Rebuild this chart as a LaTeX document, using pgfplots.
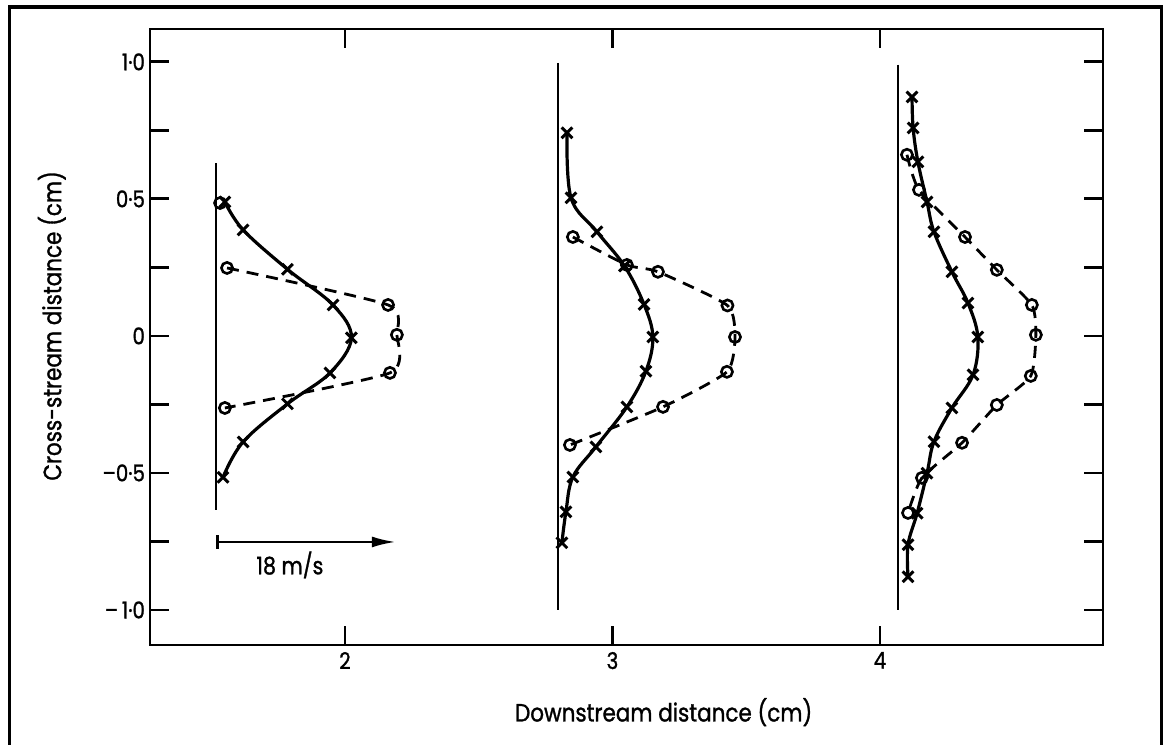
\documentclass[border=0pt]{standalone}
\usepackage{pgfplots}
\pgfplotsset{compat=1.18}
\usepackage{fontspec}
\setmainfont{Poppins}[FakeBold=1.2, FakeStretch=0.86]
\usetikzlibrary{arrows.meta}
\begin{document}
\begin{tikzpicture}
\useasboundingbox (0,0) rectangle (582.5pt,372pt);
\draw[line width=1.7pt] (4.75pt,-5pt) -- (4.75pt,368.5pt) -- (580.75pt,368.5pt) -- (580.75pt,-5pt);
\begin{axis}[
  at={(75pt,49.5pt)}, anchor=south west,
  width=476.5pt, height=308pt, scale only axis,
  xmin=1.271, xmax=4.834, ymin=-1.128, ymax=1.12,
  xtick={2,3,4}, xticklabels={2,3,4},
  ytick={-1,-0.75,-0.5,-0.25,0,0.25,0.5,0.75,1},
  yticklabels={\textendash\,1·0,,\textendash0·5,,0,,0·5,,1·0},
  tick align=inside, major tick length=9.5pt,
  xtick pos=both, ytick pos=both,
  axis line style={line width=1.4pt},
  every tick/.style={line width=1.4pt, black},
  tick label style={font=\fontsize{11.5}{13}\selectfont},
  yticklabel style={xshift=1pt},
  xlabel={Downstream distance (cm)},
  ylabel={Cross-stream distance (cm)},
  every axis x label/.style={at={(axis description cs:0.539,-0.109)}, anchor=center, font=\fontsize{12.5}{14}\selectfont},
  every axis y label/.style={at={(axis description cs:-0.103,0.518)}, rotate=90, anchor=center, font=\fontsize{12.5}{14}\selectfont},
  clip=false,
]
% baselines
\addplot[line width=1.1pt] coordinates {(1.518,0.63) (1.518,-0.635)};
\addplot[line width=1.1pt] coordinates {(2.796,0.996) (2.796,-1.0)};
\addplot[line width=1.1pt] coordinates {(4.067,0.99) (4.067,-1.0)};
% velocity scale arrow
\addplot[line width=1.3pt, {Bar[width=7pt]}-{Latex[length=12pt,width=5.5pt]}] coordinates {(1.518,-0.752) (2.19,-0.752)};
\node[font=\fontsize{12}{13}\selectfont] at (axis cs:1.794,-0.836) {18 m/s};

% profile 1 circles (dashed)
\addplot[line width=1.4pt, dash pattern=on 6pt off 4pt, smooth, tension=0.35, mark=o, mark size=2.8pt, mark options={solid, fill=white, line width=1.3pt}] coordinates {
(1.559,0.248) (2.161,0.113) (2.194,0.004) (2.168,-0.135) (1.551,-0.263)};
\addplot[only marks, mark=o, mark size=2.8pt, mark options={fill=white, line width=1.3pt}] coordinates {(1.533,0.485)};
% profile 1 crosses (solid)
\addplot[line width=1.6pt, smooth, tension=0.6, mark=x, mark size=3.8pt, mark options={line width=1.5pt}] coordinates {
(1.551,0.489) (1.619,0.387) (1.785,0.243) (1.955,0.113) (2.024,-0.007) (1.944,-0.135) (1.785,-0.248) (1.619,-0.387) (1.544,-0.516)};

% profile 2 circles (dashed)
\addplot[line width=1.4pt, dash pattern=on 6pt off 4pt, smooth, tension=0.35, mark=o, mark size=2.8pt, mark options={solid, fill=white, line width=1.3pt}] coordinates {
(2.852,0.361) (3.054,0.259) (3.170,0.234) (3.430,0.111) (3.458,-0.004) (3.428,-0.131) (3.189,-0.259) (2.841,-0.398)};
% profile 2 crosses (solid)
\addplot[line width=1.6pt, smooth, tension=0.6, mark=x, mark size=3.8pt, mark options={line width=1.5pt}] coordinates {
(2.830,0.741) (2.845,0.504) (2.942,0.380) (3.045,0.255) (3.118,0.115) (3.151,-0.004) (3.125,-0.129) (3.054,-0.259) (2.938,-0.405) (2.852,-0.515) (2.826,-0.642) (2.811,-0.755)};

% profile 3 circles (dashed)
\addplot[line width=1.4pt, dash pattern=on 6pt off 4pt, smooth, tension=0.35, mark=o, mark size=2.8pt, mark options={solid, fill=white, line width=1.3pt}] coordinates {
(4.101,0.661) (4.146,0.533) (4.318,0.361) (4.437,0.241) (4.568,0.113) (4.583,0.004) (4.564,-0.146) (4.437,-0.252) (4.307,-0.390) (4.157,-0.518) (4.105,-0.646)};
% profile 3 crosses (solid)
\addplot[line width=1.6pt, smooth, tension=0.6, mark=x, mark size=3.8pt, mark options={line width=1.5pt}] coordinates {
(4.120,0.872) (4.124,0.759) (4.142,0.635) (4.176,0.489) (4.202,0.380) (4.269,0.234) (4.329,0.120) (4.366,-0.004) (4.348,-0.142) (4.269,-0.263) (4.202,-0.386) (4.176,-0.501) (4.139,-0.647) (4.105,-0.762) (4.105,-0.879)};
\end{axis}
\end{tikzpicture}
\end{document}
